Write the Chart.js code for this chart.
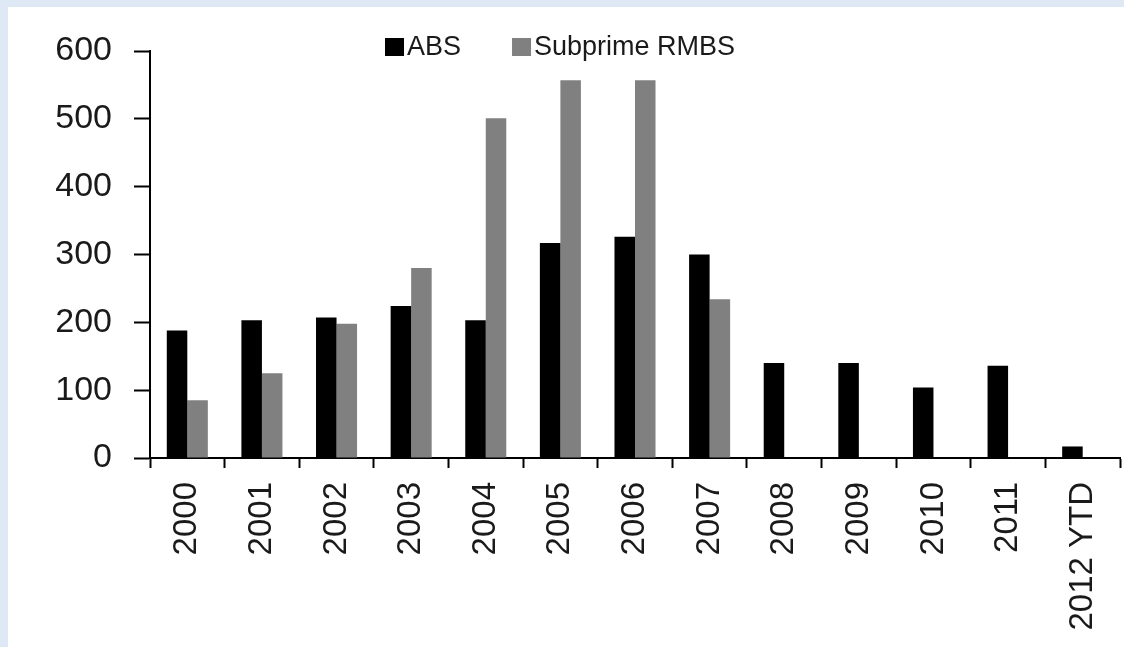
<!DOCTYPE html>
<html>
<head>
<meta charset="utf-8">
<script src="https://cdn.jsdelivr.net/npm/chart.js@4/dist/chart.umd.min.js"></script>
<style>
  html, body { margin: 0; padding: 0; background: #dfe9f6; }
  #wrap { position: absolute; left: 8px; top: 7px; width: 1116px; height: 640px; background: #fff; }
  canvas { display: block; }
</style>
</head>
<body>
<div id="wrap"><canvas id="myChart" width="1116" height="640"></canvas></div>
<script>
// Issuance by year
const years = ['2000', '2001', '2002', '2003', '2004', '2005', '2006', '2007', '2008', '2009', '2010', '2011', '2012 YTD'];
const absValues = [188, 203, 207, 224, 203, 317, 326, 300, 140, 140, 104, 136, 17];
const subprimeValues = [85, 125, 198, 280, 501, 557, 557, 234, null, null, null, null, null];
const yTicks = [0, 100, 200, 300, 400, 500, 600];

const FONT = "'Liberation Sans', Arial, sans-serif";
const TEXT = '#1a1a1a';

// Legend drawn by hand so the swatch sits tight against its label
const boxLegend = {
  id: 'boxLegend',
  afterDraw(chart) {
    const ctx = chart.ctx;
    const sets = chart.data.datasets;
    let x = 377;
    const cy = 40;
    ctx.save();
    ctx.font = '27px ' + FONT;
    ctx.textBaseline = 'middle';
    ctx.textAlign = 'left';
    sets.forEach((ds) => {
      ctx.fillStyle = ds.backgroundColor;
      ctx.fillRect(x, cy - 9, 19, 18);
      ctx.fillStyle = TEXT;
      ctx.fillText(ds.label, x + 22, cy + 1);
      x += 22 + ctx.measureText(ds.label).width + 51;
    });
    ctx.restore();
  }
};

const chartConfig = {
  type: 'bar',
  data: {
    labels: years,
    datasets: [
      { label: 'ABS', data: absValues, backgroundColor: '#000000' },
      { label: 'Subprime RMBS', data: subprimeValues, backgroundColor: '#808080' }
    ]
  },
  options: {
    responsive: false,
    animation: false,
    layout: { padding: { top: 44, right: 4, bottom: 0, left: 0 } },
    datasets: {
      bar: { categoryPercentage: 0.55, barPercentage: 1.0 }
    },
    plugins: {
      legend: { display: false },
      tooltip: { enabled: false }
    },
    scales: {
      x: {
        offset: true,
        afterFit(scale) {
          scale.height = 189;
          scale.paddingLeft = 0;
          scale.paddingRight = 0;
        },
        grid: {
          offset: true,
          drawOnChartArea: false,
          drawTicks: true,
          tickLength: 10,
          tickWidth: 2,
          tickColor: '#000'
        },
        border: { display: true, color: '#000', width: 2 },
        ticks: {
          autoSkip: false,
          minRotation: 90,
          maxRotation: 90,
          padding: 14,
          color: TEXT,
          font: { family: FONT, size: 33 }
        }
      },
      y: {
        min: 0,
        max: 600,
        afterFit(scale) { scale.width = 142; },
        afterBuildTicks(scale) { scale.ticks = yTicks.map((v) => ({ value: v })); },
        grid: {
          drawOnChartArea: false,
          drawTicks: true,
          tickLength: 16,
          tickWidth: 2,
          tickColor: '#000'
        },
        border: { display: true, color: '#000', width: 2 },
        ticks: {
          padding: 22,
          color: TEXT,
          font: { family: FONT, size: 34 }
        }
      }
    }
  },
  plugins: [boxLegend]
};

const myChart = new Chart(document.getElementById('myChart'), chartConfig);
</script>
</body>
</html>
